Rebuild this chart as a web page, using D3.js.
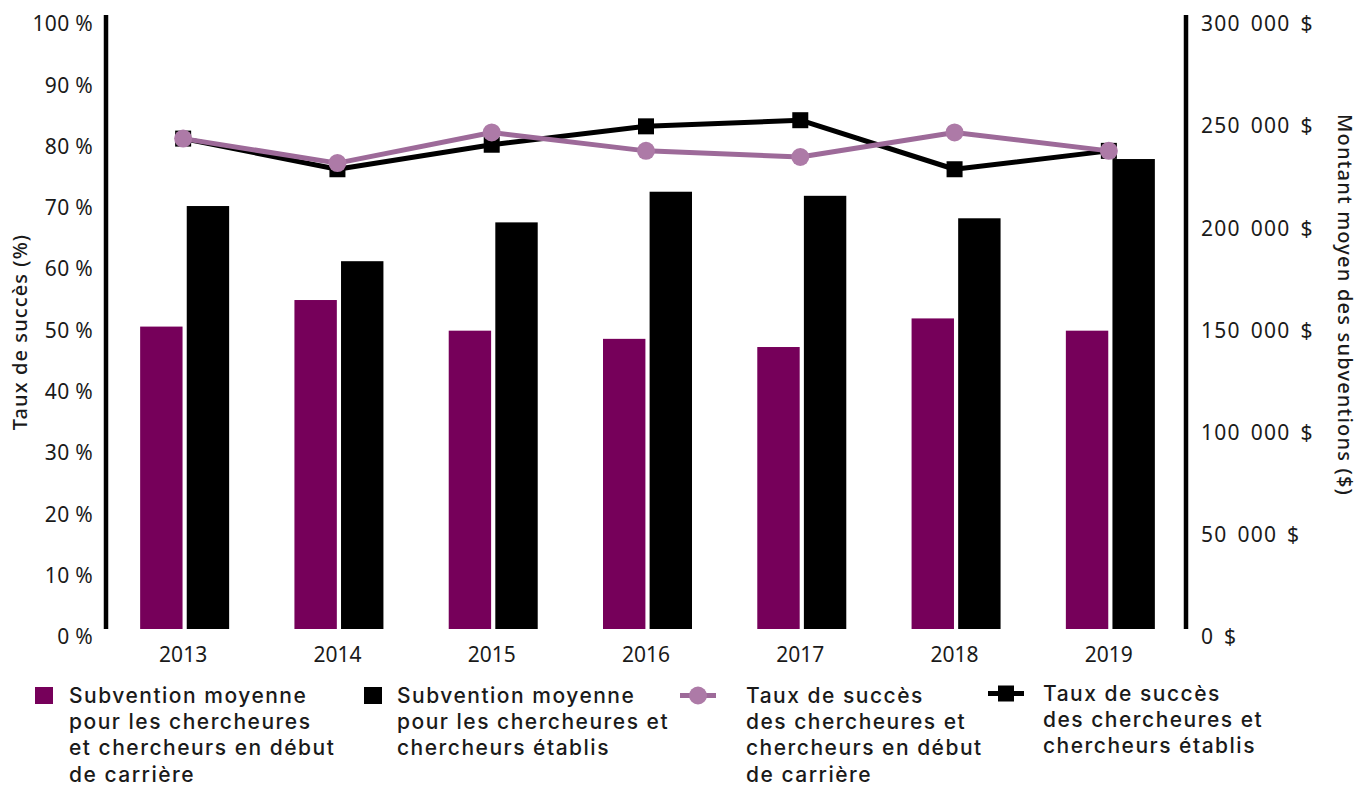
<!DOCTYPE html>
<html>
<head>
<meta charset="utf-8">
<script src="https://cdn.jsdelivr.net/npm/d3@7"></script>
<style>
  html, body { margin: 0; padding: 0; background: #fff; }
  svg { display: block; font-family: "Noto Sans", sans-serif; }
</style>
</head>
<body>
<svg id="chart" width="1368" height="787"></svg>
<script>
// ---- Data ----
const years = ["2013", "2014", "2015", "2016", "2017", "2018", "2019"];
const earlyGrant = [148000, 161000, 146000, 142000, 138000, 152000, 146000];
const establishedGrant = [207000, 180000, 199000, 214000, 212000, 201000, 230000];
const earlyRate = [80, 76, 81, 78, 77, 81, 78];
const establishedRate = [80, 75, 79, 82, 83, 75, 78];
const pctTicks = [0, 10, 20, 30, 40, 50, 60, 70, 80, 90, 100];
const moneyTicks = [0, 50000, 100000, 150000, 200000, 250000, 300000];
const leftTitle = "Taux de succès (%)";
const rightTitle = "Montant moyen des subventions ($)";
const legendItems = [
  { kind: "bar", color: "#76005a", lines: ["Subvention moyenne", "pour les chercheures", "et chercheurs en début", "de carrière"] },
  { kind: "bar", color: "#000000", lines: ["Subvention moyenne", "pour les chercheures et", "chercheurs établis"] },
  { kind: "circle", color: "#9d6a99", marker: "#ad7aa7", lines: ["Taux de succès", "des chercheures et", "chercheurs en début", "de carrière"] },
  { kind: "square", color: "#000000", marker: "#000000", lines: ["Taux de succès", "des chercheures et", "chercheurs établis"] }
];

(function () {
// ---- Layout ----
const svg = d3.select("#chart");
const pLeft = 106, pRight = 1186, pTop = 16, pBottom = 629;
const purple = "#76005a", lightLine = "#9d6a99", lightMarker = "#ad7aa7";
const textColor = "#1a1a1a";

const x = d3.scaleBand().domain(years).range([pLeft, pRight]);
const sub = d3.scaleBand().domain(["early", "est"]).range([-43, 46]).paddingInner(0.09);
const yL = d3.scaleLinear().domain([0, 100]).range([pBottom, pTop]);
const yR = d3.scaleLinear().domain([0, 300000]).range([pBottom, pTop]);
const cx = d => x(d) + x.bandwidth() / 2;

// Bars
const barData = years.map((y, i) => ({ year: y, early: earlyGrant[i], est: establishedGrant[i] }));
const g = svg.append("g");
g.selectAll("rect.early").data(barData).join("rect")
  .attr("class", "early")
  .attr("x", d => cx(d.year) + sub("early"))
  .attr("width", sub.bandwidth())
  .attr("y", d => yR(d.early))
  .attr("height", d => yR(0) - yR(d.early))
  .attr("fill", purple);
g.selectAll("rect.est").data(barData).join("rect")
  .attr("class", "est")
  .attr("x", d => cx(d.year) + sub("est"))
  .attr("width", sub.bandwidth())
  .attr("y", d => yR(d.est))
  .attr("height", d => yR(0) - yR(d.est))
  .attr("fill", "#000");

// Lines
const line = d3.line().x(d => cx(d.year)).y(d => yL(d.v));
const estPts = years.map((y, i) => ({ year: y, v: establishedRate[i] }));
const earlyPts = years.map((y, i) => ({ year: y, v: earlyRate[i] }));

svg.append("path").datum(estPts).attr("d", line)
  .attr("fill", "none").attr("stroke", "#000").attr("stroke-width", 5).attr("stroke-linejoin", "round");
svg.selectAll("rect.sq").data(estPts).join("rect")
  .attr("class", "sq")
  .attr("x", d => cx(d.year) - 8).attr("y", d => yL(d.v) - 8)
  .attr("width", 16).attr("height", 16).attr("fill", "#000");

svg.append("path").datum(earlyPts).attr("d", line)
  .attr("fill", "none").attr("stroke", lightLine).attr("stroke-width", 5).attr("stroke-linejoin", "round");
svg.selectAll("circle.pt").data(earlyPts).join("circle")
  .attr("class", "pt")
  .attr("cx", d => cx(d.year)).attr("cy", d => yL(d.v))
  .attr("r", 9).attr("fill", lightMarker);

// Axes
const fmtMoney = d => d3.format(",")(d).replace(/,/g, " ") + " $";
const axL = svg.append("g").attr("transform", `translate(${pLeft},0)`)
  .call(d3.axisLeft(yL).tickValues(pctTicks).tickFormat(d => d + " %").tickSize(0).tickSizeOuter(0).tickPadding(13));
const axR = svg.append("g").attr("transform", `translate(${pRight},0)`)
  .call(d3.axisRight(yR).tickValues(moneyTicks).tickFormat(fmtMoney).tickSize(0).tickSizeOuter(0).tickPadding(15));
[axL, axR].forEach(a => {
  a.select(".domain").attr("stroke", "#000").attr("stroke-width", 4.5).attr("d", `M0,${pTop - 1}V${pBottom}`);
  a.selectAll("text").attr("y", 8).attr("fill", textColor)
    .style("font-size", "21px").style("font-family", "Noto Sans, sans-serif");
});
axL.selectAll("text").style("letter-spacing", "0.3px");
axR.selectAll("text").style("letter-spacing", "1.3px").style("word-spacing", "3px");
const axB = svg.append("g").attr("transform", `translate(0,${pBottom})`)
  .call(d3.axisBottom(x).tickSize(0).tickPadding(18));
axB.select(".domain").remove();
axB.selectAll("text").attr("fill", textColor)
  .style("font-size", "21px").style("font-family", "Noto Sans, sans-serif");

// Axis titles
svg.append("text")
  .attr("transform", `translate(27,332) rotate(-90)`)
  .attr("text-anchor", "middle").attr("fill", textColor)
  .style("font-size", "20px").style("font-weight", 500).style("letter-spacing", "1.1px")
  .text(leftTitle);
svg.append("text")
  .attr("transform", `translate(1338,305) rotate(90)`)
  .attr("text-anchor", "middle").attr("fill", textColor)
  .style("font-size", "20px").style("font-weight", 500).style("letter-spacing", "1.2px")
  .text(rightTitle);

// Legend
const legendPos = [
  { sx: 35, tx: 69, base: 703 },
  { sx: 364, tx: 397, base: 703 },
  { sx: 680, tx: 746, base: 703 },
  { sx: 988, tx: 1043, base: 701 }
];
legendItems.forEach((item, i) => {
  const p = legendPos[i];
  const lg = svg.append("g");
  const my = p.base - 7.5;
  if (item.kind === "bar") {
    lg.append("rect").attr("x", p.sx).attr("y", my - 8.5).attr("width", 18).attr("height", 17).attr("fill", item.color);
  } else {
    lg.append("line").attr("x1", p.sx).attr("x2", p.sx + 36).attr("y1", my).attr("y2", my)
      .attr("stroke", item.color).attr("stroke-width", 5);
    if (item.kind === "circle") {
      lg.append("circle").attr("cx", p.sx + 18).attr("cy", my).attr("r", 9).attr("fill", item.marker);
    } else {
      lg.append("rect").attr("x", p.sx + 10).attr("y", my - 8).attr("width", 16).attr("height", 16).attr("fill", item.marker);
    }
  }
  lg.selectAll("text").data(item.lines).join("text")
    .attr("x", p.tx).attr("y", (d, j) => p.base + j * 26.2)
    .attr("fill", textColor)
    .style("font-family", "Inter, sans-serif")
    .style("font-size", "21px").style("font-weight", 500).style("letter-spacing", "1.5px")
    .text(d => d);
});
})();
</script>
</body>
</html>
